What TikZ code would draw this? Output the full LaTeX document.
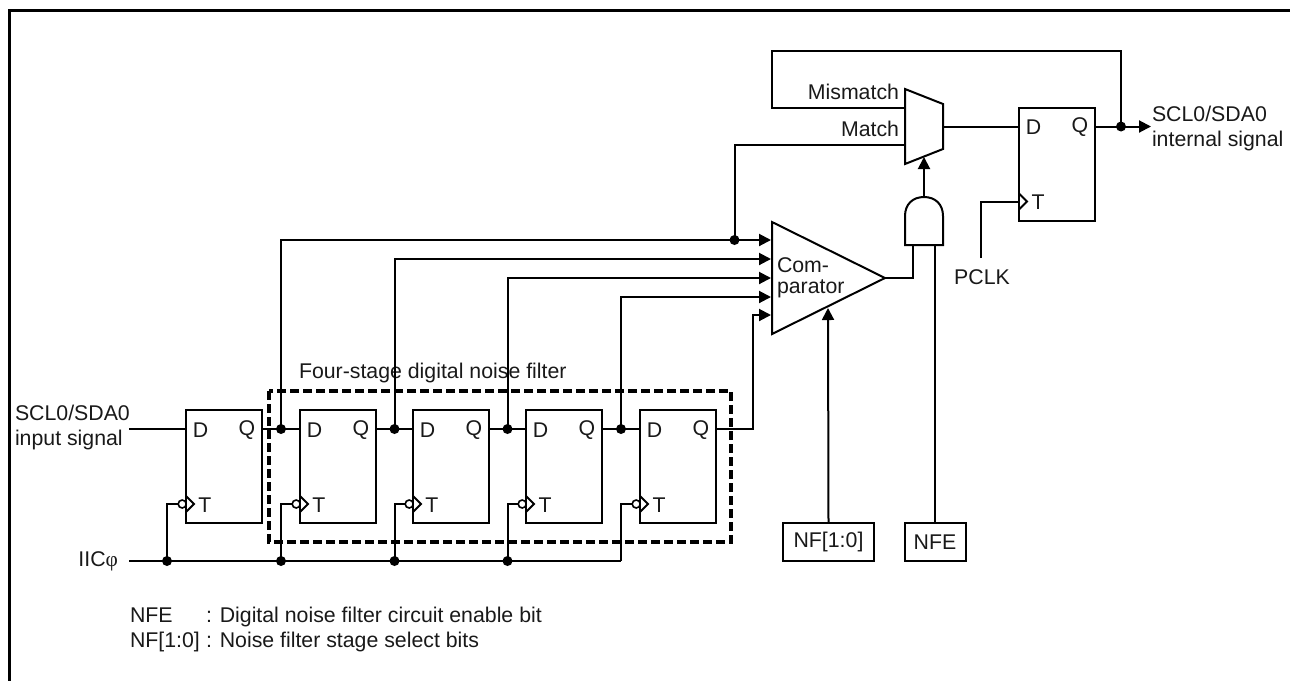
\documentclass[tikz,border=0pt]{standalone}
\usepackage{fontspec}
\setmainfont{Liberation Sans}
\newfontfamily\phifont{Liberation Serif}
\usetikzlibrary{arrows.meta,calc}
\tikzset{
  wire/.style={line width=2pt,line cap=butt,line join=miter},
  sig/.style={wire,-{Triangle[length=12pt,width=12pt]}},
  lbl/.style={inner sep=0pt,outer sep=0pt,font=\fontsize{21.3}{25}\selectfont,text=black!90},
  llbl/.style={lbl,anchor=west},
  rlbl/.style={lbl,anchor=east},
  ffbox/.style={draw,line width=2pt,minimum width=76pt,minimum height=113pt,inner sep=0pt,outer sep=0pt},
  valbox/.style={draw,line width=2pt,lbl,minimum height=38pt,inner sep=0pt},
  dot/.style={circle,fill=black,inner sep=0pt,outer sep=0pt,minimum size=10pt},
  bubble/.style={circle,draw,fill=white,line width=1.6pt,inner sep=0pt,outer sep=0pt,minimum size=8pt},
  nfframe/.style={line width=3.2pt,dash pattern=on 9pt off 4pt}
}
% name, left x, top y
\newcommand{\ffcell}[3]{%
  \node[ffbox] (#1) at (#2+38,#3+56.5) {};
  \coordinate (#1d) at (#2,#3+19);
  \coordinate (#1q) at (#2+76,#3+19);
  \coordinate (#1t) at (#2,#3+94);
  \node[lbl] (#1dl) at (#2+14.5,#3+20) {D};
  \node[lbl] (#1ql) at (#2+61,#3+20) {Q};
  \node[lbl] (#1tl) at (#2+19,#3+95) {T};
  \draw[wire] (#2,#3+86) -- (#2+8,#3+94) -- (#2,#3+102);
}
\begin{document}
\begin{tikzpicture}[x=1pt,y=-1pt]
\useasboundingbox (0,0) rectangle (1290,681);
% frame
\coordinate (fa) at (1290,10.5);
\coordinate (fb) at (9,10.5);
\coordinate (fc) at (9,681);
\draw[line width=3pt] (fa) -- (fb) -- (fc);

% flip-flops
\ffcell{fa}{186}{410}
\ffcell{fb}{300}{410}
\ffcell{fc}{413}{410}
\ffcell{fd}{526}{410}
\ffcell{fe}{640}{410}
\ffcell{ff}{1019}{107.5}

% comparator
\coordinate (cmpa) at (772,222);
\coordinate (cmpb) at (772,334);
\coordinate (cmpc) at (885,278);
\draw[wire] (cmpa) -- (cmpc) -- (cmpb) -- cycle;
\node[llbl] (comA) at (777,265) {Com-};
\node[llbl] (comB) at (777,288.5) {parator};
\coordinate (in1) at (771,240);
\coordinate (in2) at (771,259);
\coordinate (in3) at (771,278);
\coordinate (in4) at (771,297);
\coordinate (in5) at (771,315);
\coordinate (cmpnf) at (828,308);

% mux
\coordinate (muxa) at (905,89);
\coordinate (muxb) at (943,104);
\coordinate (muxc) at (943,149);
\coordinate (muxd) at (905,164);
\draw[wire] (muxa) -- (muxb) -- (muxc) -- (muxd) -- cycle;
\coordinate (mux0) at (905,108);
\coordinate (mux1) at (905,145);
\coordinate (muxo) at (943,126.5);
\coordinate (muxs) at (924,157);
\node[rlbl] (mism) at (899,92) {Mismatch};
\node[rlbl] (mat) at (899,129) {Match};

% AND gate
\draw[wire] (905,245) -- (943,245) -- (943,216) .. controls (943,204) and (935,197) .. (924,197) .. controls (913,197) and (905,204) .. (905,216) -- cycle;
\coordinate (andt) at (924,197);
\coordinate (anda) at (913,245);
\coordinate (andb) at (935,245);

% value boxes
\node[valbox,minimum width=91pt] (nf) at (828.5,542) {NF[1:0]};
\node[valbox,minimum width=61pt] (nfe) at (935,542) {NFE};

% outer labels
\node[llbl] (inA) at (15,413) {SCL0/SDA0};
\node[llbl] (inB) at (15,440) {input signal};
\node[rlbl] (iic) at (118,561) {IIC{\phifont φ}};
\node[llbl] (outA) at (1152,114) {SCL0/SDA0};
\node[llbl] (outB) at (1152,141) {internal signal};
\node[lbl] (pclk) at (982,277) {PCLK};
\node[llbl] (legA) at (130,616.5) {\makebox[76pt][l]{NFE}: Digital noise filter circuit enable bit};
\node[llbl] (legB) at (130,642) {\makebox[76pt][l]{NF[1:0]}: Noise filter stage select bits};
\node[llbl] (nftitle) at (299,373) {Four-stage digital noise filter};

% wire ends
\coordinate (dinl) at (129,429);
\coordinate (iicl) at (129,561);
\coordinate (iicr) at (621,561);

% data chain
\draw[wire] (dinl) -- (fad);
\draw[wire] (faq) -- (fbd);
\draw[wire] (fbq) -- (fcd);
\draw[wire] (fcq) -- (fdd);
\draw[wire] (fdq) -- (fed);
\coordinate (j1) at (281,429);
\coordinate (j2) at (394.5,429);
\coordinate (j3) at (507.5,429);
\coordinate (j4) at (621,429);
\draw[sig] (j1) |- (in1);
\draw[sig] (j2) |- (in2);
\draw[sig] (j3) |- (in3);
\draw[sig] (j4) |- (in4);
\draw[sig] (feq) -| (753,315) -- (in5);
\node[dot] (dj1) at (j1) {};
\node[dot] (dj2) at (j2) {};
\node[dot] (dj3) at (j3) {};
\node[dot] (dj4) at (j4) {};

% clock
\draw[wire] (iicl) -- (iicr);
\coordinate (c0) at (167,561);
\coordinate (c1) at (281,561);
\coordinate (c2) at (394.5,561);
\coordinate (c3) at (507.5,561);
\draw[wire] (c0) |- (fat);
\draw[wire] (c1) |- (fbt);
\draw[wire] (c2) |- (fct);
\draw[wire] (c3) |- (fdt);
\draw[wire] (iicr) |- (fet);
\node[bubble] (ba) at ($(fat)+(-3.8,0)$) {};
\node[bubble] (bb) at ($(fbt)+(-3.8,0)$) {};
\node[bubble] (bc) at ($(fct)+(-3.8,0)$) {};
\node[bubble] (bd) at ($(fdt)+(-3.8,0)$) {};
\node[bubble] (be) at ($(fet)+(-3.8,0)$) {};
\node[dot] (dc0) at (c0) {};
\node[dot] (dc1) at (c1) {};
\node[dot] (dc2) at (c2) {};
\node[dot] (dc3) at (c3) {};

% dashed box
\coordinate (nfa) at (269,391);
\coordinate (nfb) at (731,542);
\draw[nfframe] (nfa) rectangle (nfb);

% upper section
\coordinate (j5) at (734.5,240);
\draw[wire] (j5) |- (mux1);
\node[dot] (dj5) at (j5) {};
\draw[sig] (nf.north) -- (cmpnf);
\draw[wire] (nfe.north) -- (andb);
\draw[wire] (cmpc) -| (anda);
\draw[sig] (andt) -- (muxs);
\draw[wire] (muxo) -- (ffd);
\coordinate (j6) at (1121,126.5);
\coordinate (outend) at (1151,126.5);
\draw[sig] (ffq) -- (outend);
\draw[wire] (j6) -- (1121,51) -- (772,51) -- (772,108) -- (mux0);
\node[dot] (dj6) at (j6) {};
\coordinate (pc) at (981,258);
\draw[wire] (pc) |- (fft);
\end{tikzpicture}
\end{document}
